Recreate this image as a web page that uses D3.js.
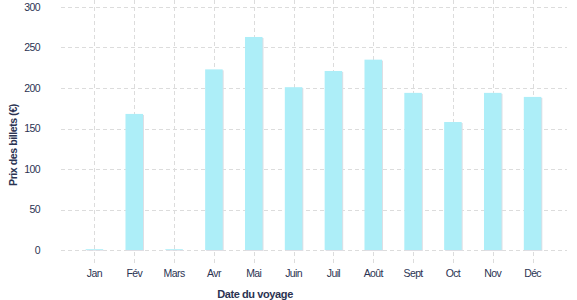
<!DOCTYPE html>
<html>
<head>
<meta charset="utf-8">
<script src="https://cdn.jsdelivr.net/npm/d3@7"></script>
<style>
  body { margin: 0; background: #fff; }
  text { font-family: "Liberation Sans", Arial, sans-serif; fill: #2b3352; }
</style>
</head>
<body>
<div id="chart"></div>
<script>
var months = ['Jan', 'Fév', 'Mars', 'Avr', 'Mai', 'Juin', 'Juil', 'Août', 'Sept', 'Oct', 'Nov', 'Déc']
var prices = [1, 168, 1, 223, 263, 201, 221, 235, 194, 158, 194, 189]
var yTicks = [0, 50, 100, 150, 200, 250, 300]

var w = 577, h = 300

var svg = d3.select('#chart').append('svg').attr('width', w).attr('height', h)

var x = d3.scaleBand().domain(months).range([74.5, 552.5]).paddingInner(0.56).paddingOuter(0.28)
var y = d3.scaleLinear().domain([0, 300]).range([250, 7])

// grid
var grid = svg.append('g')
grid.selectAll('line.h').data(yTicks).enter().append('line')
  .attr('x1', 61).attr('x2', 567)
  .attr('y1', function(d){ return Math.round(y(d)) + 0.5 })
  .attr('y2', function(d){ return Math.round(y(d)) + 0.5 })
  .attr('stroke', '#dcdcdc').attr('stroke-dasharray', '4,3')

grid.selectAll('line.v').data(months).enter().append('line')
  .attr('x1', function(d){ return Math.round(x(d) + x.bandwidth()/2) + 0.5 })
  .attr('x2', function(d){ return Math.round(x(d) + x.bandwidth()/2) + 0.5 })
  .attr('y1', 0).attr('y2', 266)
  .attr('stroke', '#dcdcdc').attr('stroke-dasharray', '4,3')

// bars with little shadow
var bars = svg.append('g')
bars.selectAll('rect.sh').data(prices).enter().append('rect')
  .attr('x', function(d, i){ return x(months[i]) + 1 })
  .attr('y', function(d){ return y(d) + 1 })
  .attr('width', x.bandwidth())
  .attr('height', function(d){ return y(0) - y(d) })
  .attr('fill', '#dedee4')

bars.selectAll('rect.b').data(prices).enter().append('rect')
  .attr('x', function(d, i){ return x(months[i]) })
  .attr('y', function(d){ return y(d) })
  .attr('width', x.bandwidth())
  .attr('height', function(d){ return y(0) - y(d) })
  .attr('fill', '#adeef8')

// axes
var yAxis = svg.append('g').attr('transform', 'translate(40,0)')
  .call(d3.axisLeft(y).tickValues(yTicks).tickSize(0).tickPadding(0))
yAxis.select('.domain').remove()
yAxis.selectAll('text').style('font-size', '10.5px').attr('letter-spacing', '-0.6')

var xAxis = svg.append('g').attr('transform', 'translate(0,270)')
  .call(d3.axisBottom(x).tickSize(0).tickPadding(0))
xAxis.select('.domain').remove()
xAxis.selectAll('text').style('font-size', '10.5px').attr('letter-spacing', '-0.6')

svg.append('text').attr('x', 255).attr('y', 298).attr('text-anchor', 'middle')
  .style('font-size', '11px').style('font-weight', 'bold').attr('letter-spacing', '-0.4')
  .text('Date du voyage')

svg.append('text').attr('transform', 'translate(17,145) rotate(-90)').attr('text-anchor', 'middle')
  .style('font-size', '10.5px').style('font-weight', 'bold').attr('letter-spacing', '-0.4')
  .text('Prix des billets (€)')
</script>
</body>
</html>
